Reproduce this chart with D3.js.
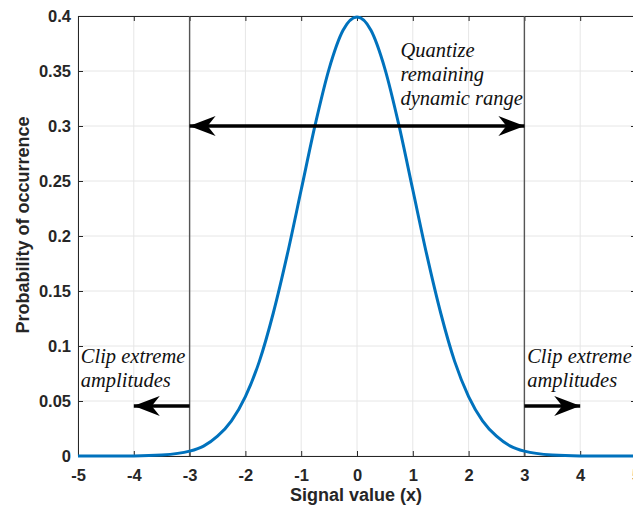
<!DOCTYPE html>
<html><head><meta charset="utf-8">
<script src="https://cdn.jsdelivr.net/npm/d3@7"></script>
<style>body{margin:0;background:#fff}</style>
</head><body>
<svg id="c" width="633" height="512"></svg>
<script>
const xTicks = [-5,-4,-3,-2,-1,0,1,2,3,4,5];
const yTicks = [0,0.05,0.1,0.15,0.2,0.25,0.3,0.35,0.4];
const yTickLabels = ["0","0.05","0.1","0.15","0.2","0.25","0.3","0.35","0.4"];
const curveX = [-5,-4.5,-4,-3.5,-3,-2.75,-2.5,-2.25,-2,-1.75,-1.5,-1.25,-1,-0.75,-0.5,-0.25,0,0.25,0.5,0.75,1,1.25,1.5,1.75,2,2.25,2.5,2.75,3,3.5,4,4.5,5];
const curveY = [0,0,0.0001,0.0009,0.0044,0.009,0.018,0.032,0.054,0.086,0.130,0.183,0.242,0.301,0.352,0.387,0.399,0.387,0.352,0.301,0.242,0.183,0.130,0.086,0.054,0.032,0.018,0.009,0.0044,0.0009,0.0001,0,0];
const clipBounds = [-3, 3];
const bigArrowY = 0.3;
const smallArrows = [{from:-3,to:-4,y:0.0455},{from:3,to:4,y:0.0455}];
const notes = [
  {x:-4.95, y:0.0845, lines:["Clip extreme","amplitudes"]},
  {x:3.05, y:0.0845, lines:["Clip extreme","amplitudes"]},
  {x:0.78, y:0.3625, lines:["Quantize","remaining","dynamic range"]}
];

const svg = d3.select("#c");
const L=78, R=636, T=16, B=456;
const x = d3.scaleLinear().domain([-5,5]).range([L,R]);
const y = d3.scaleLinear().domain([0,0.4]).range([B,T]);
const axisCol="#262626";

// grid
const g = svg.append("g");
g.selectAll(".gx").data(xTicks).join("line")
  .attr("x1",d=>x(d)).attr("x2",d=>x(d)).attr("y1",T).attr("y2",B)
  .attr("stroke","#e6e6e6").attr("stroke-width",1);
g.selectAll(".gy").data(yTicks).join("line")
  .attr("y1",d=>y(d)).attr("y2",d=>y(d)).attr("x1",L).attr("x2",R)
  .attr("stroke","#e6e6e6").attr("stroke-width",1);

// axes
const fmt = d=>yTickLabels[yTicks.indexOf(d)];
const ax = svg.append("g").attr("transform",`translate(0,${B})`)
  .call(d3.axisBottom(x).tickValues(xTicks).tickFormat(d=>String(d)).tickSizeInner(-5).tickSizeOuter(0).tickPadding(13));
const ay = svg.append("g").attr("transform",`translate(${L},0)`)
  .call(d3.axisLeft(y).tickValues(yTicks).tickFormat(fmt).tickSizeInner(-5).tickSizeOuter(0).tickPadding(7));
const axT = svg.append("g").attr("transform",`translate(0,${T})`)
  .call(d3.axisTop(x).tickValues(xTicks).tickSizeInner(-5).tickSizeOuter(0).tickFormat(""));
const ayR = svg.append("g").attr("transform",`translate(${R},0)`)
  .call(d3.axisRight(y).tickValues(yTicks).tickSizeInner(-5).tickSizeOuter(0).tickFormat(""));
[ax,ay,axT,ayR].forEach(a=>{
  a.select(".domain").attr("stroke",axisCol).attr("stroke-width",1);
  a.selectAll(".tick line").attr("stroke",axisCol);
  a.selectAll(".tick text").attr("fill",axisCol).attr("font-family","'Liberation Sans',Arial,sans-serif")
    .attr("font-weight","bold").attr("font-size",16.5);
});

// clip lines
svg.selectAll(".clip").data(clipBounds).join("line")
  .attr("x1",d=>x(d)).attr("x2",d=>x(d)).attr("y1",T).attr("y2",B)
  .attr("stroke","#555").attr("stroke-width",1.4);

// curve
svg.append("path").datum(curveX.map((v,i)=>[v,curveY[i]]))
  .attr("d",d3.line().x(d=>x(d[0])).y(d=>y(d[1])).curve(d3.curveMonotoneX))
  .attr("fill","none").attr("stroke","#0072BD").attr("stroke-width",3);

// arrowheads
const defs = svg.append("defs");
defs.append("marker").attr("id","ah").attr("viewBox","0 0 26 20").attr("refX",26).attr("refY",10)
  .attr("markerWidth",26).attr("markerHeight",20).attr("markerUnits","userSpaceOnUse").attr("orient","auto-start-reverse")
  .append("path").attr("d","M0,0 L26,10 L0,20 L8,10 Z").attr("fill","#000");

svg.append("line").attr("x1",x(clipBounds[0])).attr("x2",x(clipBounds[1]))
  .attr("y1",y(bigArrowY)).attr("y2",y(bigArrowY))
  .attr("stroke","#000").attr("stroke-width",3.5)
  .attr("marker-start","url(#ah)").attr("marker-end","url(#ah)");
svg.selectAll(".sa").data(smallArrows).join("line")
  .attr("x1",d=>x(d.from)).attr("x2",d=>x(d.to)).attr("y1",d=>y(d.y)).attr("y2",d=>y(d.y))
  .attr("stroke","#000").attr("stroke-width",3.5).attr("marker-end","url(#ah)");

// notes
notes.forEach(n=>{
  const t = svg.append("text").attr("x",x(n.x)).attr("y",y(n.y))
    .attr("font-family","'Liberation Serif','Times New Roman',serif").attr("font-style","italic")
    .attr("font-size",20.5).attr("fill","#111");
  n.lines.forEach((l,i)=>t.append("tspan").attr("x",x(n.x)).attr("dy",i?24:0).text(l));
});

// axis titles
svg.append("text").attr("x",356).attr("y",501).attr("text-anchor","middle")
  .attr("font-family","'Liberation Sans',Arial,sans-serif").attr("font-weight","bold").attr("font-size",18)
  .attr("fill",axisCol).text("Signal value (x)");
svg.append("text").attr("transform",`translate(29,225) rotate(-90)`).attr("text-anchor","middle")
  .attr("font-family","'Liberation Sans',Arial,sans-serif").attr("font-weight","bold").attr("font-size",18)
  .attr("fill",axisCol).text("Probability of occurrence");
</script>
</body></html>
